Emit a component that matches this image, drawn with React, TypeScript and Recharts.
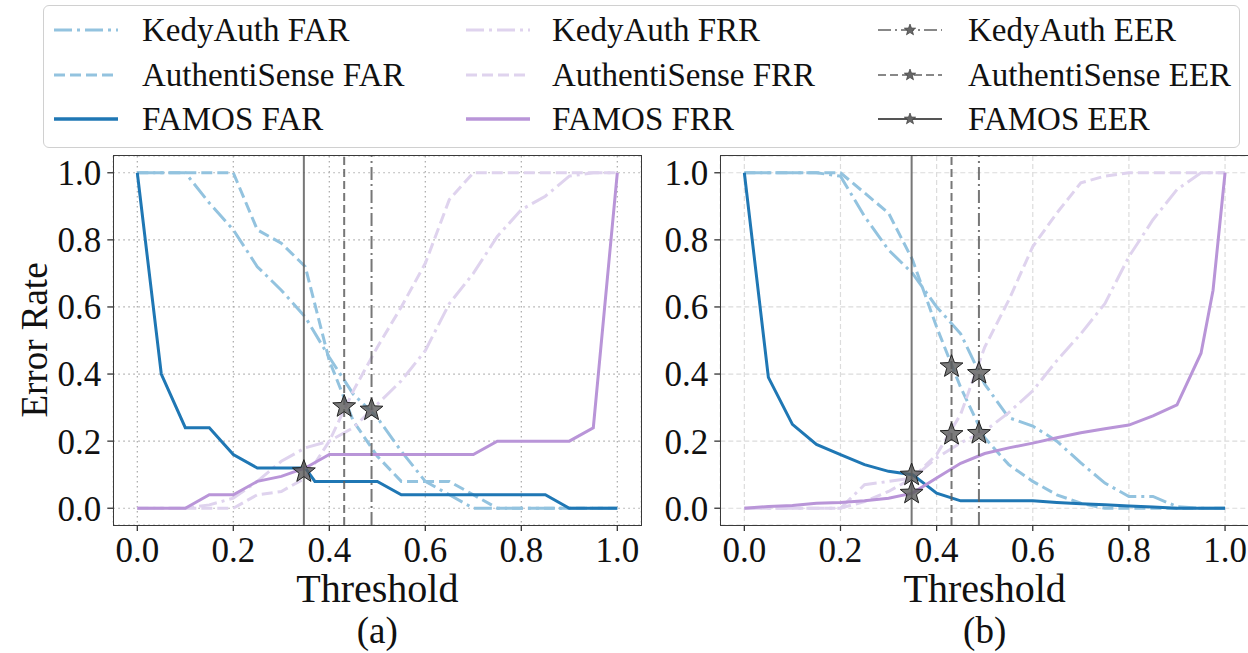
import React from 'react';
import { ComposedChart, Line, Scatter, XAxis, YAxis, CartesianGrid, ReferenceLine } from 'recharts';

const FONT = '"Liberation Serif", "Times New Roman", serif';
const BLUE = '#1f77b4';
const LIGHT_BLUE = '#93c3df';
const PURPLE = '#b995d8';
const LIGHT_PURPLE = '#dfd3ee';
const EER_GRAY = '#5f5f5f';
const DASH = '11 5';
const DASH_DOT = '18 5 3 5';
const EER_DASH = '8 4';
const EER_DASH_DOT = '13 4 2 4';

const thresholds = [0, 0.05, 0.1, 0.15, 0.2, 0.25, 0.3, 0.35, 0.4, 0.45, 0.5, 0.55, 0.6, 0.65, 0.7, 0.75, 0.8, 0.85, 0.9, 0.95, 1.0];
const axisTicks = [0, 0.2, 0.4, 0.6, 0.8, 1.0];

// panel (a)
const kedyFarA = [1, 1, 1, 0.91, 0.83, 0.72, 0.65, 0.57, 0.45, 0.34, 0.27, 0.17, 0.08, 0.04, 0, 0, 0, 0, 0, 0, 0];
const authFarA = [1, 1, 1, 1, 1, 0.83, 0.79, 0.72, 0.44, 0.26, 0.155, 0.08, 0.08, 0.08, 0.04, 0, 0, 0, 0, 0, 0];
const famosFarAThresholds = [0, 0.05, 0.1, 0.15, 0.2, 0.25, 0.35, 0.37, 0.5, 0.55, 0.85, 0.9, 1.0];
const famosFarA = [1, 0.4, 0.24, 0.24, 0.16, 0.12, 0.12, 0.08, 0.08, 0.04, 0.04, 0, 0];
const kedyFrrA = [0, 0, 0, 0.01, 0.03, 0.08, 0.14, 0.18, 0.2, 0.24, 0.31, 0.38, 0.47, 0.61, 0.7, 0.81, 0.89, 0.93, 0.99, 1, 1];
const authFrrA = [0, 0, 0, 0, 0, 0.04, 0.05, 0.09, 0.2, 0.35, 0.48, 0.6, 0.73, 0.92, 1, 1, 1, 1, 1, 1, 1];
const famosFrrA = [0, 0, 0, 0.04, 0.04, 0.08, 0.095, 0.12, 0.16, 0.16, 0.16, 0.16, 0.16, 0.16, 0.16, 0.2, 0.2, 0.2, 0.2, 0.24, 1.0];
const eerLinesA = [0.488, 0.431, 0.347];
const eerStarXA = [0.488, 0.431, 0.347];
const eerStarYA = [0.293, 0.303, 0.109];

// panel (b)
const kedyFarB = [1, 1, 1, 1, 0.99, 0.87, 0.77, 0.7, 0.6, 0.52, 0.37, 0.27, 0.245, 0.2, 0.135, 0.075, 0.035, 0.035, 0.005, 0, 0];
const authFarB = [1, 1, 1, 1, 1, 0.94, 0.88, 0.74, 0.54, 0.36, 0.21, 0.13, 0.08, 0.04, 0.015, 0, 0, 0, 0, 0, 0];
const famosFarB = [1, 0.39, 0.25, 0.19, 0.16, 0.13, 0.11, 0.1, 0.045, 0.022, 0.022, 0.022, 0.022, 0.017, 0.013, 0.01, 0.007, 0.004, 0, 0, 0];
const kedyFrrB = [0, 0, 0, 0, 0, 0.07, 0.08, 0.09, 0.15, 0.195, 0.23, 0.285, 0.35, 0.44, 0.52, 0.61, 0.75, 0.86, 0.95, 1, 1];
const authFrrB = [0, 0, 0, 0, 0, 0.02, 0.05, 0.09, 0.16, 0.28, 0.48, 0.62, 0.78, 0.88, 0.97, 0.99, 1, 1, 1, 1, 1];
const famosFrrBThresholds = [0, 0.05, 0.1, 0.15, 0.2, 0.25, 0.3, 0.35, 0.4, 0.45, 0.5, 0.55, 0.6, 0.65, 0.7, 0.75, 0.8, 0.85, 0.9, 0.95, 0.975, 1.0];
const famosFrrB = [0, 0.005, 0.008, 0.015, 0.017, 0.022, 0.03, 0.045, 0.09, 0.134, 0.163, 0.18, 0.194, 0.21, 0.225, 0.237, 0.248, 0.275, 0.308, 0.462, 0.65, 1.0];
const eerLinesB = [0.488, 0.431, 0.348];
const eerStarXB = [0.488, 0.488, 0.431, 0.431, 0.348, 0.348];
const eerStarYB = [0.402, 0.223, 0.422, 0.22, 0.099, 0.045];

const eerLineDash = [EER_DASH_DOT, EER_DASH, undefined];

const pts = (xs: number[], ys: number[]) => xs.map((x, i) => ({ x, y: ys[i] }));

type Series = { name: string; data: { x: number; y: number }[]; color: string; dash?: string };

const seriesA: Series[] = [
  { name: 'KedyAuth FAR', data: pts(thresholds, kedyFarA), color: LIGHT_BLUE, dash: DASH_DOT },
  { name: 'AuthentiSense FAR', data: pts(thresholds, authFarA), color: LIGHT_BLUE, dash: DASH },
  { name: 'KedyAuth FRR', data: pts(thresholds, kedyFrrA), color: LIGHT_PURPLE, dash: DASH_DOT },
  { name: 'AuthentiSense FRR', data: pts(thresholds, authFrrA), color: LIGHT_PURPLE, dash: DASH },
  { name: 'FAMOS FAR', data: pts(famosFarAThresholds, famosFarA), color: BLUE },
  { name: 'FAMOS FRR', data: pts(thresholds, famosFrrA), color: PURPLE },
];

const seriesB: Series[] = [
  { name: 'KedyAuth FAR', data: pts(thresholds, kedyFarB), color: LIGHT_BLUE, dash: DASH_DOT },
  { name: 'AuthentiSense FAR', data: pts(thresholds, authFarB), color: LIGHT_BLUE, dash: DASH },
  { name: 'KedyAuth FRR', data: pts(thresholds, kedyFrrB), color: LIGHT_PURPLE, dash: DASH_DOT },
  { name: 'AuthentiSense FRR', data: pts(thresholds, authFrrB), color: LIGHT_PURPLE, dash: DASH },
  { name: 'FAMOS FAR', data: pts(thresholds, famosFarB), color: BLUE },
  { name: 'FAMOS FRR', data: pts(famosFrrBThresholds, famosFrrB), color: PURPLE },
];

const starPoints = (cx: number, cy: number, R: number) => {
  const r = R * 0.42;
  const out: string[] = [];
  for (let i = 0; i < 10; i++) {
    const a = -Math.PI / 2 + (i * Math.PI) / 5;
    const rad = i % 2 === 0 ? R : r;
    out.push(`${cx + rad * Math.cos(a)},${cy + rad * Math.sin(a)}`);
  }
  return out.join(' ');
};

const StarShape = (props: any) => (
  <polygon points={starPoints(props.cx, props.cy, 12)} fill="#5a5a5a" fillOpacity={0.8} stroke="#222" strokeWidth={1} />
);

const PLOT_TOP = 156;
const PLOT_BOTTOM = 525;
const Y_AXIS_W = 100;
const X_AXIS_H = 40;
const CHART_H = 600;

interface PanelProps {
  left: number;
  width: number;
  plotLeft: number;
  plotRight: number;
  series: Series[];
  eerLines: number[];
  stars: { x: number; y: number }[];
  gridDash: string;
  gridColor: string;
  caption: string;
  showYLabel?: boolean;
}

const Panel: React.FC<PanelProps> = ({ left, width, plotLeft, plotRight, series, eerLines, stars, gridDash, gridColor, caption, showYLabel }) => {
  const tickStyle = { fontSize: 35, fill: '#111', fontFamily: FONT };
  const center = left + (plotLeft + plotRight) / 2;
  return (
    <>
      <div style={{ position: 'absolute', left, top: 0 }}>
        <ComposedChart
          width={width}
          height={CHART_H}
          margin={{ top: PLOT_TOP, right: width - plotRight, bottom: CHART_H - PLOT_BOTTOM - X_AXIS_H, left: plotLeft - Y_AXIS_W }}
        >
          <CartesianGrid stroke={gridColor} strokeDasharray={gridDash} strokeWidth={1.2} />
          <XAxis
            dataKey="x"
            type="number"
            domain={[-0.05, 1.05]}
            ticks={axisTicks}
            allowDataOverflow
            height={X_AXIS_H}
            axisLine={false}
            tickLine={{ stroke: '#333', strokeWidth: 1.3 }}
            tickSize={6}
            tickMargin={6}
            tick={tickStyle}
            tickFormatter={(v: number) => v.toFixed(1)}
          />
          <YAxis
            type="number"
            domain={[-0.05, 1.05]}
            ticks={axisTicks}
            allowDataOverflow
            width={Y_AXIS_W}
            axisLine={false}
            tickLine={{ stroke: '#333', strokeWidth: 1.3 }}
            tickSize={6}
            tickMargin={6}
            tick={tickStyle}
            tickFormatter={(v: number) => v.toFixed(1)}
          />
          {series.map((s) => (
            <Line
              key={s.name}
              data={s.data}
              dataKey="y"
              name={s.name}
              type="linear"
              stroke={s.color}
              strokeWidth={3}
              strokeDasharray={s.dash}
              dot={false}
              activeDot={false}
              isAnimationActive={false}
            />
          ))}
          {eerLines.map((x, i) => (
            <ReferenceLine key={i} x={x} stroke={EER_GRAY} strokeOpacity={0.85} strokeWidth={2} strokeDasharray={eerLineDash[i]} />
          ))}
          <Scatter data={stars} dataKey="y" shape={StarShape} isAnimationActive={false} />
        </ComposedChart>
      </div>
      <div
        style={{
          position: 'absolute',
          left: left + plotLeft - 0.75,
          top: PLOT_TOP - 0.75,
          width: plotRight - plotLeft + 1.5,
          height: PLOT_BOTTOM - PLOT_TOP + 1.5,
          border: '1.5px solid #3a3a3a',
          boxSizing: 'border-box',
        }}
      />
      <div style={{ position: 'absolute', left: center - 150, width: 300, top: 569, textAlign: 'center', fontSize: 40, lineHeight: '40px' }}>
        Threshold
      </div>
      <div style={{ position: 'absolute', left: center - 150, width: 300, top: 612, textAlign: 'center', fontSize: 37, lineHeight: '38px' }}>
        {caption}
      </div>
      {showYLabel && (
        <div
          style={{
            position: 'absolute',
            left: 35 - 120,
            top: 340 - 22,
            width: 240,
            height: 44,
            lineHeight: '44px',
            textAlign: 'center',
            fontSize: 37,
            transform: 'rotate(-90deg)',
          }}
        >
          Error Rate
        </div>
      )}
    </>
  );
};

type LegendItem = { label: string; color: string; dash?: string; width: number; star?: boolean };

const legendColumns: LegendItem[][] = [
  [
    { label: 'KedyAuth FAR', color: LIGHT_BLUE, dash: DASH_DOT, width: 3 },
    { label: 'AuthentiSense FAR', color: LIGHT_BLUE, dash: DASH, width: 3 },
    { label: 'FAMOS FAR', color: BLUE, width: 3.5 },
  ],
  [
    { label: 'KedyAuth FRR', color: LIGHT_PURPLE, dash: DASH_DOT, width: 3 },
    { label: 'AuthentiSense FRR', color: LIGHT_PURPLE, dash: DASH, width: 3 },
    { label: 'FAMOS FRR', color: PURPLE, width: 3.5 },
  ],
  [
    { label: 'KedyAuth EER', color: '#888', dash: EER_DASH_DOT, width: 2, star: true },
    { label: 'AuthentiSense EER', color: '#888', dash: EER_DASH, width: 2, star: true },
    { label: 'FAMOS EER', color: '#555', width: 2, star: true },
  ],
];
const legendHandleX = [54, 466, 878];
const legendTextX = [142, 552, 968];
const legendRowY = [30, 75, 119];

const FigureLegend: React.FC = () => (
  <>
    <div
      style={{
        position: 'absolute',
        left: 43,
        top: 5,
        width: 1197,
        height: 143,
        border: '1.5px solid #d0d0d0',
        borderRadius: 6,
        boxSizing: 'border-box',
      }}
    />
    {legendColumns.map((col, ci) =>
      col.map((item, ri) => (
        <React.Fragment key={item.label}>
          <svg style={{ position: 'absolute', left: legendHandleX[ci], top: legendRowY[ri] - 10 }} width={66} height={20}>
            <line x1={0} y1={10} x2={64} y2={10} stroke={item.color} strokeWidth={item.width} strokeDasharray={item.dash} />
            {item.star && <polygon points={starPoints(32, 10, 6)} fill="#666" stroke="#333" strokeWidth={0.6} />}
          </svg>
          <div style={{ position: 'absolute', left: legendTextX[ci], top: legendRowY[ri] - 20, fontSize: 33, lineHeight: '40px', whiteSpace: 'nowrap' }}>
            {item.label}
          </div>
        </React.Fragment>
      ))
    )}
  </>
);

export default function App() {
  return (
    <div
      style={{
        position: 'absolute',
        left: 0,
        top: 0,
        width: 1248,
        height: 653,
        overflow: 'hidden',
        background: '#fff',
        fontFamily: FONT,
        color: '#111',
      }}
    >
      <FigureLegend />
      <Panel
        left={0}
        width={660}
        plotLeft={113.3}
        plotRight={641.3}
        series={seriesA}
        eerLines={eerLinesA}
        stars={pts(eerStarXA, eerStarYA)}
        gridDash="1.5 3.5"
        gridColor="#a8a8a8"
        caption="(a)"
        showYLabel
      />
      <Panel
        left={620}
        width={640}
        plotLeft={100.3}
        plotRight={629.1}
        series={seriesB}
        eerLines={eerLinesB}
        stars={pts(eerStarXB, eerStarYB)}
        gridDash="5 3"
        gridColor="#dcdcdc"
        caption="(b)"
      />
    </div>
  );
}
